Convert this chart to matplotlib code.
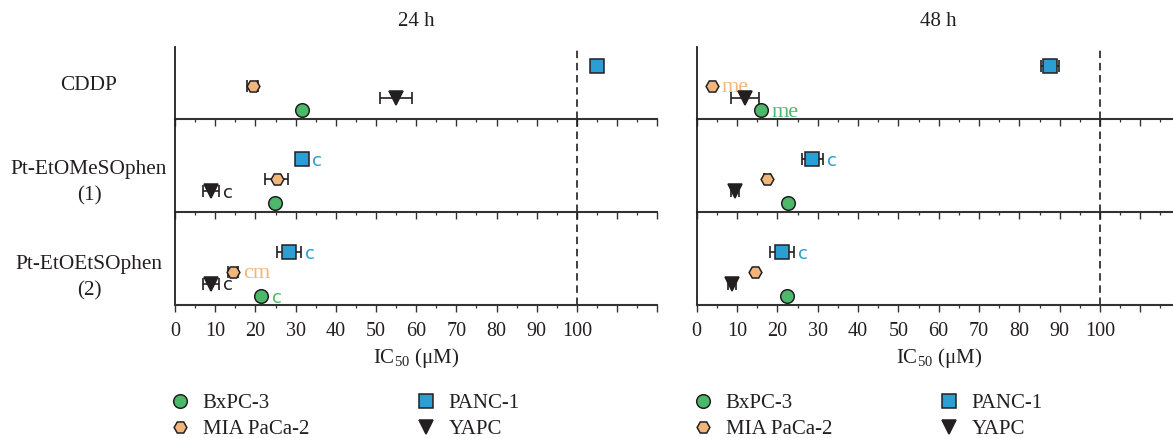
import matplotlib
matplotlib.use('Agg')
import matplotlib.pyplot as plt
from matplotlib.lines import Line2D
from matplotlib.ticker import MultipleLocator, FuncFormatter

plt.rcParams['font.family'] = ['Liberation Serif', 'DejaVu Serif']
plt.rcParams['mathtext.fontset'] = 'custom'
plt.rcParams['mathtext.rm'] = 'Liberation Serif'

# ---------------- data ----------------
times = ['24 h', '48 h']
compounds = ['CDDP', 'Pt-EtOMeSOphen\n(1)', 'Pt-EtOEtSOphen\n(2)']
cell_lines = ['BxPC-3', 'MIA PaCa-2', 'YAPC', 'PANC-1']

# IC50 (uM), rows = compounds, columns = cell lines (BxPC-3, MIA PaCa-2, YAPC, PANC-1)
ic50_24 = [[31.6, 19.3, 55.0, 105.0],
           [24.8, 25.3, 9.0, 31.5],
           [21.5, 14.4, 9.0, 28.3]]
err_24 = [[0.0, 1.3, 3.9, 0.0],
          [0.0, 2.8, 2.0, 0.0],
          [0.0, 1.2, 2.0, 3.0]]
sig_24 = [['', '', '', ''],
          ['', '', 'c', 'c'],
          ['c', 'cm', 'c', 'c']]

ic50_48 = [[15.9, 3.7, 12.0, 87.6],
           [22.7, 17.4, 9.5, 28.7],
           [22.3, 14.5, 8.7, 21.1]]
err_48 = [[0.0, 0.0, 3.5, 2.3],
          [0.0, 0.8, 1.0, 2.6],
          [0.0, 0.0, 1.0, 3.0]]
sig_48 = [['me', 'me', '', ''],
          ['', '', '', 'c'],
          ['', '', '', 'c']]

threshold = 100
x_tick_labels = [str(v) for v in range(0, 101, 10)]

# ---------------- style ----------------
colors = ['#4cb96a', '#f2b57c', '#231f20', '#2b9ed3']
text_colors = ['#4cb96a', '#f2b57c', '#231f20', '#2b9ed3']
markers = ['o', 'H', 'v', 's']
msizes = [9.8, 9.2, 10.5, 9.5]
y_off = [9, 33.5, 21.5, 53]          # px above row baseline
EDGE = '#231f20'
AXC = '#333333'

W, H = 1173, 438
fig = plt.figure(figsize=(W / 100, H / 100), dpi=100)

def fx(px):
    return px / W

def fy(py):
    return 1 - py / H

panels = [(175.0, 4.02), (696.7, 4.033)]
row_edges = [47, 119, 212, 305]
data = [(ic50_24, err_24, sig_24), (ic50_48, err_48, sig_48)]

for p, (x0, sc) in enumerate(panels):
    vals, errs, sigs = data[p]
    for r in range(3):
        top, bot = row_edges[r], row_edges[r + 1]
        hpx = bot - top
        ax = fig.add_axes([fx(x0), fy(bot), 120 * sc / W, hpx / H])
        ax.set_xlim(0, 120)
        ax.set_ylim(0, hpx)
        ax.patch.set_alpha(0)
        for s in ['top', 'right']:
            ax.spines[s].set_visible(False)
        ax.spines['left'].set_color('#231f20')
        ax.spines['left'].set_linewidth(1.3)
        ax.spines['bottom'].set_color(AXC)
        ax.spines['bottom'].set_linewidth(1.5)
        ax.set_yticks([])
        ax.xaxis.set_major_locator(MultipleLocator(10))
        ax.xaxis.set_minor_locator(MultipleLocator(5))
        ax.tick_params(axis='x', which='major', direction='out', length=5,
                       width=1.0, color=AXC, labelsize=14.5, pad=7.5,
                       labelcolor='#231f20')
        ax.tick_params(axis='x', which='minor', direction='out', length=2.5,
                       width=0.9, color=AXC)
        if r == 2:
            ax.xaxis.set_major_formatter(FuncFormatter(
                lambda v, pos: x_tick_labels[int(round(v / 10))]
                if 0 <= v <= threshold + 0.1 else ''))
            ax.set_xlabel(r'IC$_{\mathrm{50}}$ (μM)', fontsize=15, labelpad=3,
                          color='#231f20')
        else:
            ax.tick_params(axis='x', labelbottom=False)

        ymax_line = hpx - 3 if r == 0 else hpx
        ax.plot([threshold, threshold], [0, ymax_line], ls=(0, (4.5, 2.8)),
                color='#231f20', lw=1.2, zorder=1)

        for c in range(4):
            v = vals[r][c]
            e = errs[r][c]
            yy = y_off[c]
            if e > 0:
                ax.errorbar([v], [yy], xerr=[e], fmt='none', ecolor=EDGE,
                            elinewidth=1.2, capsize=4.2, capthick=1.2, zorder=2)
            ax.plot([v], [yy], marker=markers[c], ms=msizes[c], mfc=colors[c],
                    mec=EDGE, mew=1.1, ls='none', zorder=3, clip_on=False)
            lab = sigs[r][c]
            if lab:
                rad_px = msizes[c] * 100 / 72 / 2
                epx = e * sc
                off = max(rad_px - epx, 0) + 4
                fam = ['DejaVu Sans'] if lab == 'c' else ['Liberation Serif']
                fs = 13 if lab == 'c' else 16
                ax.annotate(lab, xy=(v + e, yy), xytext=(off, 0),
                            textcoords='offset pixels', ha='left',
                            va='center_baseline', color=text_colors[c],
                            fontsize=fs, family=fam)

# titles
fig.text(fx(416), fy(22), times[0], ha='center', va='center', fontsize=15,
         color='#231f20')
fig.text(fx(938), fy(22), times[1], ha='center', va='center', fontsize=15,
         color='#231f20')

# compound labels
label_y = [85, 182.5, 277.5]
for r, name in enumerate(compounds):
    fig.text(fx(89), fy(label_y[r]), name, ha='center', va='center',
             fontsize=15.3, linespacing=1.5, color='#231f20')

# legends
order = [0, 1, 3, 2]
handles = [Line2D([], [], marker=markers[i], ms=msizes[i], mfc=colors[i],
                  mec=EDGE, mew=1.1, ls='none') for i in order]
labels = [cell_lines[i] for i in order]
for lx in [169.6, 692.6]:
    fig.legend(handles, labels, loc='upper left',
               bbox_to_anchor=(fx(lx), fy(393.5)), ncol=2, frameon=False,
               handlelength=1.0, handletextpad=0.59, columnspacing=5.1,
               labelspacing=0.3, fontsize=15, borderaxespad=0, borderpad=0,
               labelcolor='#231f20')

fig.savefig('out.png', dpi=100)
